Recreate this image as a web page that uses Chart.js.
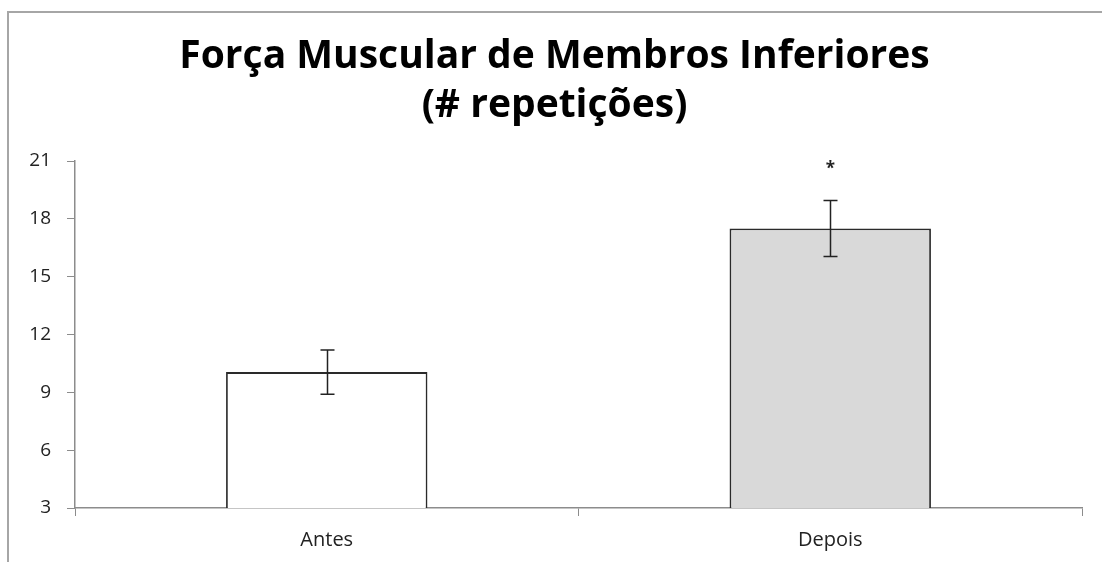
<!DOCTYPE html>
<html>
<head>
<meta charset="utf-8">
<script src="https://cdn.jsdelivr.net/npm/chart.js@4.4.1/dist/chart.umd.min.js"></script>
<style>
  html, body { margin: 0; padding: 0; background: #fff; overflow: hidden; }
  #wrap { position: relative; width: 1102px; height: 562px; }
  #frame { position: absolute; left: 7px; top: 11px; right: -10px; bottom: -10px;
           border-left: 2px solid #a6a6a6; border-top: 2px solid #a6a6a6; }
  canvas { position: absolute; left: 0; top: 0; }
</style>
</head>
<body>
<div id="wrap">
  <div id="frame"></div>
  <canvas id="chart" width="1102" height="562"></canvas>
</div>
<script>
const categories = ['Antes', 'Depois'];
const means = [10.05, 17.5];
const errors = [1.15, 1.45];
const marks = ['', '*'];
const yTicks = [3, 6, 9, 12, 15, 18, 21];
const titleLines = ['Força Muscular de Membros Inferiores', '(# repetições)'];

const fontFamily = "'Open Sans', 'Noto Sans', sans-serif";

// error bars and the significance mark, placed with the chart's own scales
const errorBarPlugin = {
  id: 'errorBars',
  afterDatasetsDraw(chart) {
    const ctx = chart.ctx;
    const meta = chart.getDatasetMeta(0);
    const y = chart.scales.y;
    ctx.save();
    ctx.strokeStyle = '#222';
    ctx.lineWidth = 1.5;
    meta.data.forEach((bar, i) => {
      const top = y.getPixelForValue(means[i] + errors[i]);
      const bottom = y.getPixelForValue(means[i] - errors[i]);
      const cx = Math.round(bar.x) + 0.5;
      ctx.beginPath();
      ctx.moveTo(cx, top);
      ctx.lineTo(cx, bottom);
      ctx.moveTo(cx - 7, top);
      ctx.lineTo(cx + 7, top);
      ctx.moveTo(cx - 7, bottom);
      ctx.lineTo(cx + 7, bottom);
      ctx.stroke();
      if (marks[i]) {
        ctx.fillStyle = '#222';
        ctx.font = 'bold 17px ' + fontFamily;
        ctx.textAlign = 'center';
        ctx.textBaseline = 'middle';
        ctx.fillText(marks[i], cx, top - 31);
      }
    });
    ctx.restore();
  }
};

new Chart(document.getElementById('chart'), {
  type: 'bar',
  data: {
    labels: categories,
    datasets: [{
      data: means,
      backgroundColor: ['#ffffff', '#d9d9d9'],
      borderColor: '#2a2a2a',
      borderWidth: 1.8,
      borderSkipped: false,
      categoryPercentage: 0.4,
      barPercentage: 1.0
    }]
  },
  options: {
    responsive: false,
    animation: false,
    devicePixelRatio: 1,
    layout: { padding: { left: 27, right: 20, top: 0, bottom: 0 } },
    plugins: {
      legend: { display: false },
      tooltip: { enabled: false },
      title: {
        display: true,
        text: titleLines,
        color: '#000',
        font: { family: fontFamily, size: 39, weight: 'bold', lineHeight: 1.25 },
        padding: { top: 33, bottom: 30.5 }
      }
    },
    scales: {
      x: {
        offset: true,
        grid: { display: true, offset: true, drawOnChartArea: false, tickLength: 8, color: '#8c8c8c' },
        border: { color: '#8c8c8c', width: 1.5 },
        ticks: { color: '#222', font: { family: fontFamily, size: 20 }, padding: 12 },
        afterFit(scale) { scale.height = 54; }
      },
      y: {
        min: 3,
        max: 21,
        afterBuildTicks(scale) { scale.ticks = yTicks.map(v => ({ value: v })); },
        grid: { display: true, drawOnChartArea: false, tickLength: 8, color: '#8c8c8c' },
        border: { color: '#8c8c8c', width: 1.5 },
        ticks: { color: '#222', font: { family: fontFamily, size: 19 }, padding: 16 },
        afterFit(scale) { scale.width = 48; }
      }
    }
  },
  plugins: [errorBarPlugin]
});
</script>
</body>
</html>
